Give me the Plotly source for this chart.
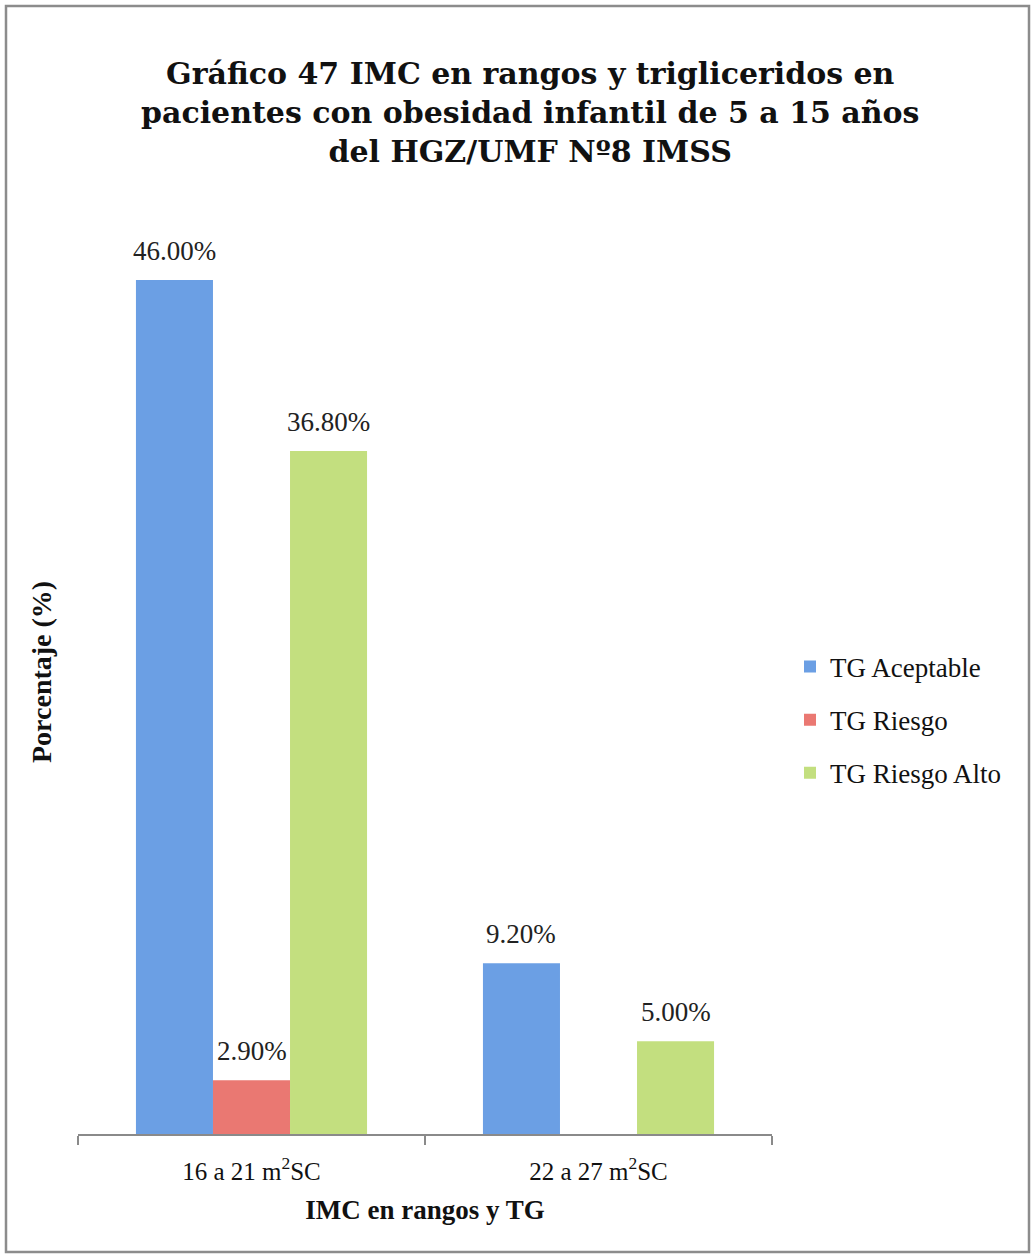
import plotly.graph_objects as go

# IMC ranges (x categories) and triglyceride groups (series)
categories = ["16 a 21 m<sup>2</sup>SC", "22 a 27 m<sup>2</sup>SC"]
tg_aceptable = [46.00, 9.20]
tg_riesgo = [2.90, None]
tg_riesgo_alto = [36.80, 5.00]

series = [
    ("TG Aceptable", tg_aceptable, "#6b9fe4"),
    ("TG Riesgo", tg_riesgo, "#ea7872"),
    ("TG Riesgo Alto", tg_riesgo_alto, "#c3df7f"),
]

SERIF = "Liberation Serif, DejaVu Serif, serif"
TITLE_FONT = "DejaVu Serif, Liberation Serif, serif"

W, H = 1034, 1258
ml, mr, mt, mb = 78, 262, 230, 124
pw, ph = W - ml - mr, H - mt - mb
BARGAP = 0.334


def px_x(p):
    return (p - ml) / pw


def px_y(p):
    return (H - mb - p) / ph


fig = go.Figure()
for name, vals, color in series:
    fig.add_trace(go.Bar(
        name=name,
        x=categories,
        y=vals,
        marker=dict(color=color, line=dict(width=0)),
        legendgroup=name,
    ))

# value labels above each bar, offset to the bar's slot within its group
bar_px = pw / len(categories) * (1 - BARGAP) / len(series)
annotations = []
for i, (name, vals, _) in enumerate(series):
    shift = (i - (len(series) - 1) / 2) * bar_px
    for cat, v in zip(categories, vals):
        if v is None:
            continue
        annotations.append(dict(
            x=cat, y=v, xref="x", yref="y",
            text=f"{v:.2f}%", showarrow=False,
            xanchor="center", yanchor="bottom",
            xshift=shift, yshift=12,
            font=dict(family=SERIF, size=27, color="#222222"),
        ))

annotations.append(dict(
    text="<b>Gráfico 47 IMC en rangos y trigliceridos en<br>"
         "pacientes con obesidad infantil de 5 a 15 años<br>"
         "del HGZ/UMF Nº8 IMSS</b>",
    xref="paper", yref="paper",
    x=px_x(530), y=px_y(112), xanchor="center", yanchor="middle",
    showarrow=False,
    font=dict(family=TITLE_FONT, size=30, color="#111111"),
    align="center",
))

# vertical axis title
annotations.append(dict(
    text="<b>Porcentaje (%)</b>",
    xref="paper", yref="paper",
    x=px_x(41), y=px_y(672), xanchor="center", yanchor="middle",
    textangle=-90, showarrow=False,
    font=dict(family=SERIF, size=28, color="#111111"),
))

fig.update_layout(
    width=W, height=H,
    margin=dict(l=ml, r=mr, t=mt, b=mb),
    paper_bgcolor="white",
    plot_bgcolor="white",
    barmode="group",
    bargap=BARGAP,
    bargroupgap=0,
    showlegend=True,
    legend=dict(
        x=px_x(790), y=px_y(720), xanchor="left", yanchor="middle",
        font=dict(family=SERIF, size=27, color="#111111"),
        tracegroupgap=15,
        itemwidth=30,
        bgcolor="rgba(0,0,0,0)",
    ),
    xaxis=dict(
        showline=True, linecolor="#8a8a8a", linewidth=1.5,
        ticks="outside", tickson="boundaries", ticklen=9,
        tickcolor="#8a8a8a", tickwidth=1.5,
        ticklabelstandoff=14,
        tickfont=dict(family=SERIF, size=25, color="#111111"),
        showgrid=False, zeroline=False,
        title=dict(text="<b>IMC en rangos y TG</b>",
                   font=dict(family=SERIF, size=27, color="#111111"),
                   standoff=16),
    ),
    yaxis=dict(
        range=[0, 48.7],
        showticklabels=False, showgrid=False, zeroline=False, showline=False,
        ticks="",
    ),
    annotations=annotations,
    shapes=[dict(
        type="rect", xref="paper", yref="paper",
        x0=px_x(6), x1=px_x(1029), y0=px_y(1252), y1=px_y(6),
        line=dict(color="#8c8c8c", width=2.5),
        fillcolor="rgba(0,0,0,0)", layer="below",
    )],
)

fig.write_html("out.html")
